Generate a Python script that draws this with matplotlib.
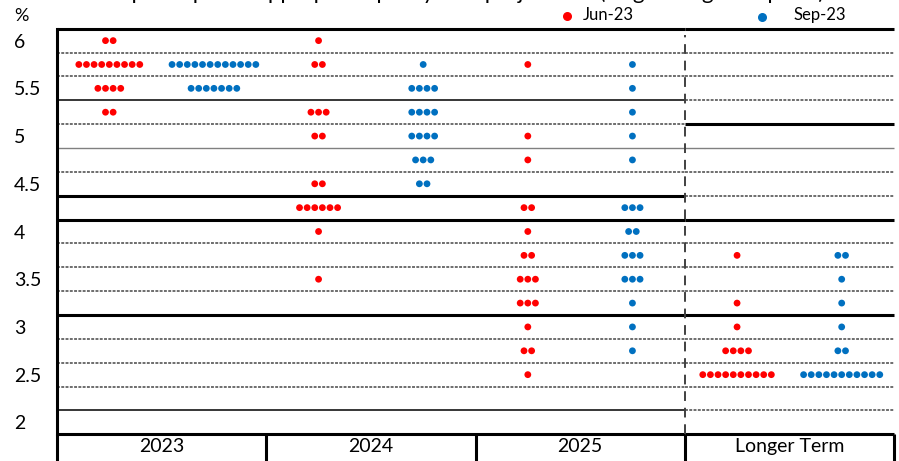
import matplotlib.pyplot as plt
import numpy as np

# dot plot: number of participants per rate bucket (bucket midpoints, %)
rows = [5.875, 5.625, 5.375, 5.125, 4.875, 4.625, 4.375, 4.125,
        3.875, 3.625, 3.375, 3.125, 2.875, 2.625, 2.375]
groups = ['2023', '2024', '2025', 'Longer Term']

jun_2023 = [2, 9, 4, 2, 0, 0, 0, 0, 0, 0, 0, 0, 0, 0, 0]
sep_2023 = [0, 12, 7, 0, 0, 0, 0, 0, 0, 0, 0, 0, 0, 0, 0]
jun_2024 = [1, 2, 0, 3, 2, 0, 2, 6, 1, 0, 1, 0, 0, 0, 0]
sep_2024 = [0, 1, 4, 4, 4, 3, 2, 0, 0, 0, 0, 0, 0, 0, 0]
jun_2025 = [0, 1, 0, 0, 1, 1, 0, 2, 1, 2, 3, 3, 1, 2, 1]
sep_2025 = [0, 1, 1, 1, 1, 1, 0, 3, 2, 3, 3, 1, 1, 1, 0]
jun_lr = [0, 0, 0, 0, 0, 0, 0, 0, 0, 1, 0, 1, 1, 4, 10]
sep_lr = [0, 0, 0, 0, 0, 0, 0, 0, 0, 2, 1, 1, 1, 2, 11]

jun = [jun_2023, jun_2024, jun_2025, jun_lr]
sep = [sep_2023, sep_2024, sep_2025, sep_lr]

ytick_pos = [5.875, 5.375, 4.875, 4.375, 3.875, 3.375, 2.875, 2.375, 1.875]
ytick_lab = ['6', '5.5', '5', '4.5', '4', '3.5', '3', '2.5', '2']

RED = '#ff0000'
BLUE = '#0070c0'
plt.rcParams['font.family'] = ['Lato', 'DejaVu Sans']

fig = plt.figure(figsize=(8.99, 4.61), dpi=100)
ax = fig.add_axes([57 / 899, 1 - 434.3 / 461, (894 - 57) / 899, (434.3 - 28.7) / 461])
ax.set_xlim(0, 4)
ax.set_ylim(1.75, 6.0)

# horizontal lines, left part (before dashed line) and right part
styles = {
    'thick': dict(color='black', lw=2.2, ls='-'),
    'thin': dict(color='black', lw=1.1, ls='-'),
    'gray': dict(color='#808080', lw=1.0, ls='-'),
    'dot': dict(color='#6e6e6e', lw=1.4, ls=(0, (1.5, 0.7))),
}
levels = [6.0, 5.75, 5.5, 5.25, 5.0, 4.75, 4.5, 4.25, 4.0,
          3.75, 3.5, 3.25, 3.0, 2.75, 2.5, 2.25, 2.0, 1.75]
left_style = ['thick', 'dot', 'dot', 'thin', 'dot', 'gray', 'dot', 'thick', 'thick',
              'dot', 'dot', 'dot', 'thick', 'dot', 'dot', 'dot', 'thin', 'thick']
right_style = ['thick', 'dot', 'dot', 'dot', 'thick', 'gray', 'dot', 'dot', 'thick',
               'dot', 'dot', 'dot', 'thick', 'dot', 'dot', 'dot', 'dot', 'thick']
for lv, ls_l, ls_r in zip(levels, left_style, right_style):
    ax.hlines(lv, 0, 3, clip_on=False, **styles[ls_l])
    ax.hlines(lv, 3, 4, clip_on=False, **styles[ls_r])

ax.vlines(3, 1.75, 5.93, color='#404040', lw=1.4, ls=(0, (5, 3.5)))

# dots
step = 0.0364
for g in range(4):
    for counts, off, col in [(jun[g], 0.25, RED), (sep[g], 0.75, BLUE)]:
        for r, n in zip(rows, counts):
            if n == 0:
                continue
            xs = g + off + (np.arange(n) - (n - 1) / 2) * step
            ax.scatter(xs, [r] * n, s=24, color=col, edgecolors='none', zorder=3)

for s in ['top', 'right', 'bottom']:
    ax.spines[s].set_visible(False)
ax.spines['left'].set_linewidth(2.2)

ax.set_yticks(ytick_pos)
ax.set_yticklabels(ytick_lab, fontsize=14)
ax.tick_params(axis='y', length=0, pad=31)
for t in ax.get_yticklabels():
    t.set_horizontalalignment('left')

ax.set_xticks([0.5, 1.5, 2.5, 3.5])
ax.set_xticklabels(groups, fontsize=14)
ax.tick_params(axis='x', which='major', length=0, pad=3)
ax.set_xticks([0, 1, 2, 3, 4], minor=True)
ax.tick_params(axis='x', which='minor', length=22, width=2.2, direction='out')

fig.text(14 / 899, 1 - 16 / 461, '%', fontsize=13, va='center', ha='left')

# legend
ax.scatter([567 / 899], [1 - 16 / 461], s=30, color=RED, transform=fig.transFigure, clip_on=False)
fig.text(583 / 899, 1 - 15 / 461, 'Jun-23', fontsize=12, va='center')
ax.scatter([762 / 899], [1 - 17 / 461], s=30, color=BLUE, transform=fig.transFigure, clip_on=False)
fig.text(793 / 899, 1 - 15 / 461, 'Sep-23', fontsize=12, va='center')

# title, mostly cut off at the top edge as in the source image
fig.text(60 / 899, 1.002, "FOMC participants' appropriate policy rate projections (target range midpoint)",
         fontsize=16, va='baseline')

fig.savefig('out.png', dpi=100)
